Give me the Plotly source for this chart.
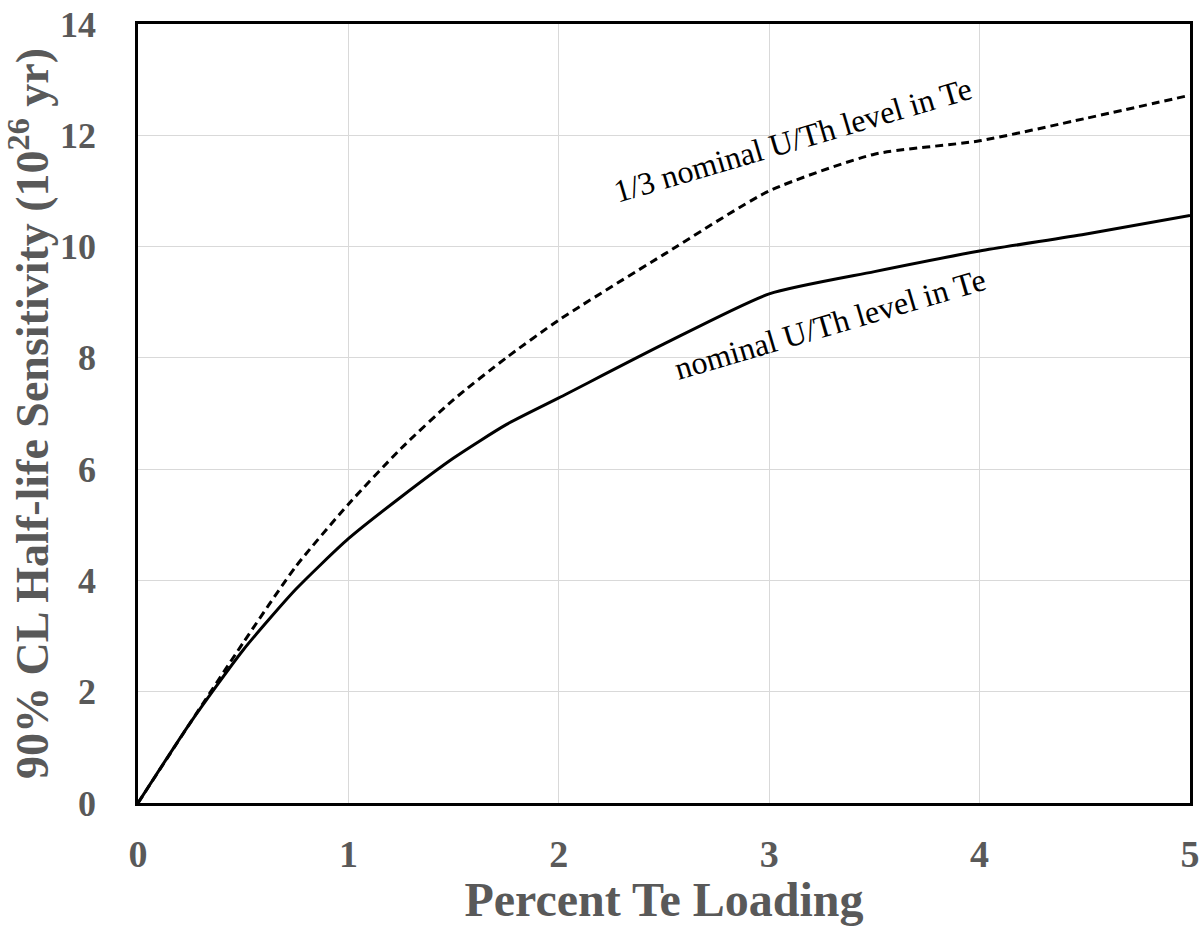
import plotly.graph_objects as go

# Percent Te loading (x) and 90% CL half-life sensitivity in units of 1e26 yr (y)
te_loading = [0, 0.25, 0.5, 0.75, 1.0, 1.25, 1.5, 1.75, 2.0, 2.5, 3.0, 3.5, 4.0, 4.5, 5.0]
sens_nominal = [0, 1.45, 2.75, 3.84, 4.75, 5.5, 6.2, 6.8, 7.28, 8.25, 9.15, 9.55, 9.92, 10.22, 10.56]
sens_third = [0, 1.45, 2.88, 4.25, 5.37, 6.37, 7.25, 8.0, 8.68, 9.86, 11.0, 11.66, 11.9, 12.3, 12.72]

x_ticks = [0, 1, 2, 3, 4, 5]
y_ticks = [0, 2, 4, 6, 8, 10, 12, 14]

label_nominal = "nominal U/Th level in Te"
label_third = "1/3 nominal U/Th level in Te"

SERIF = "Liberation Serif, Times New Roman, serif"
GREY = "#595959"

fig = go.Figure()
fig.add_trace(go.Scatter(
    x=te_loading, y=sens_nominal, mode="lines",
    line=dict(color="black", width=3, shape="spline", smoothing=0.6),
    showlegend=False, hoverinfo="skip"))
fig.add_trace(go.Scatter(
    x=te_loading, y=sens_third, mode="lines",
    line=dict(color="black", width=3, dash="8px,5px", shape="spline", smoothing=0.6),
    showlegend=False, hoverinfo="skip"))

fig.add_annotation(x=3.11, y=11.92, text=label_third, showarrow=False,
                   textangle=-16.4, xanchor="center", yanchor="middle",
                   font=dict(family=SERIF, size=32, color="black"))
fig.add_annotation(x=3.29, y=8.6, text=label_nominal, showarrow=False,
                   textangle=-16.4, xanchor="center", yanchor="middle",
                   font=dict(family=SERIF, size=32, color="black"))

axis_common = dict(
    showgrid=True, gridcolor="#d9d9d9", gridwidth=1,
    zeroline=False, showline=True, mirror=True,
    linecolor="black", linewidth=2.5, ticks="",
)

fig.update_layout(
    width=1201, height=926,
    margin=dict(l=138, r=11, t=24, b=123, autoexpand=False),
    paper_bgcolor="white", plot_bgcolor="white",
    xaxis=dict(range=[0, 5], tickvals=x_ticks, ticklabelstandoff=16,
               tickfont=dict(family=SERIF, size=38, color=GREY, weight="bold"),
               title=dict(text="Percent Te Loading", standoff=19,
                          font=dict(family=SERIF, size=48, color=GREY, weight="bold")),
               **axis_common),
    yaxis=dict(range=[0, 14], tickvals=y_ticks, ticklabelstandoff=32,
               tickfont=dict(family=SERIF, size=36, color=GREY, weight="bold"),
               title=dict(text="90% CL Half-life Sensitivity (10<sup>26</sup> yr)", standoff=8,
                          font=dict(family=SERIF, size=46, color=GREY, weight="bold")),
               **axis_common),
)

fig.write_html("out.html")
